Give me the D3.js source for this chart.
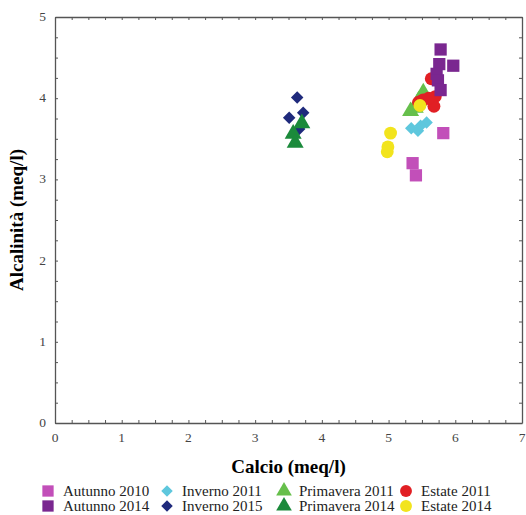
<!DOCTYPE html>
<html>
<head>
<meta charset="utf-8">
<style>
    body { margin: 0; background: #fff; }
    text { font-family: "Liberation Serif", "Times New Roman", serif; }
</style>
</head>
<body>
    <div class="graph"></div>

    <script src="https://d3js.org/d3.v7.min.js"></script>
    <script>
        // series (calcio, alcalinita)
        var autunno2010 = [[5.82, 3.57], [5.36, 3.20], [5.41, 3.05]]
        var inverno2011 = [[5.34, 3.63], [5.44, 3.60], [5.57, 3.70], [5.48, 3.66]]
        var primavera2011 = [[5.33, 3.84], [5.52, 4.07], [5.45, 3.97], [5.40, 3.88]]
        var estate2011 = [[5.64, 4.24], [5.52, 3.98], [5.70, 4.02], [5.68, 3.90], [5.45, 3.95], [5.60, 4.00]]
        var autunno2014 = [[5.78, 4.60], [5.97, 4.40], [5.76, 4.42], [5.72, 4.30], [5.74, 4.22], [5.78, 4.10]]
        var inverno2015 = [[3.63, 4.01], [3.72, 3.82], [3.51, 3.76], [3.66, 3.62]]
        var primavera2014 = [[3.70, 3.69], [3.57, 3.56], [3.60, 3.45]]
        var estate2014 = [[5.47, 3.91], [5.03, 3.57], [4.99, 3.40], [4.98, 3.34]]

        var seriesNames = ['Autunno 2010', 'Inverno 2011', 'Primavera 2011', 'Estate 2011',
                           'Autunno 2014', 'Inverno 2015', 'Primavera 2014', 'Estate 2014']
        var xTicks = [0, 1, 2, 3, 4, 5, 6, 7]
        var yTicks = [0, 1, 2, 3, 4, 5]

        var series = [
            { name: seriesNames[0], data: autunno2010, shape: 'square', color: '#c24fb9' },
            { name: seriesNames[1], data: inverno2011, shape: 'diamond', color: '#5ec7dd' },
            { name: seriesNames[2], data: primavera2011, shape: 'triangle', color: '#66bf4b' },
            { name: seriesNames[3], data: estate2011, shape: 'circle', color: '#e11f24' },
            { name: seriesNames[4], data: autunno2014, shape: 'square', color: '#7a2790' },
            { name: seriesNames[5], data: inverno2015, shape: 'diamond', color: '#1f2a7c' },
            { name: seriesNames[6], data: primavera2014, shape: 'triangle', color: '#1b8a3b' },
            { name: seriesNames[7], data: estate2014, shape: 'circle', color: '#f2e41d' }
        ]

        var width = 526,
            height = 515,
            plotLeft = 55, plotRight = 522, plotTop = 17, plotBottom = 423

        var x = d3.scaleLinear().domain([0, 7]).range([plotLeft, plotRight])
        var y = d3.scaleLinear().domain([0, 5]).range([plotBottom, plotTop])

        var symbols = {
            square: { type: d3.symbolSquare, size: 150, rot: 0 },
            diamond: { type: d3.symbolSquare, size: 78, rot: 45 },
            triangle: { type: d3.symbolTriangle, size: 125, rot: 0 },
            circle: { type: d3.symbolCircle, size: 130, rot: 0 }
        }

        var svg = d3.select('.graph').append('svg')
            .attr('width', width)
            .attr('height', height)

        var frameColor = '#555'

        // minor ticks every 0.25, pointing inward on all four sides
        var xMinor = d3.range(0, 7.001, 0.25)
        var yMinor = d3.range(0, 5.001, 0.25)

        svg.append('g')
            .attr('transform', 'translate(0,' + plotBottom + ')')
            .call(d3.axisBottom(x).tickValues(xMinor).tickSize(-3).tickSizeOuter(0).tickFormat(''))
        svg.append('g')
            .attr('transform', 'translate(0,' + plotTop + ')')
            .call(d3.axisTop(x).tickValues(xMinor).tickSize(-3).tickSizeOuter(0).tickFormat(''))
        svg.append('g')
            .attr('transform', 'translate(' + plotLeft + ',0)')
            .call(d3.axisLeft(y).tickValues(yMinor).tickSize(-3).tickSizeOuter(0).tickFormat(''))
        svg.append('g')
            .attr('transform', 'translate(' + plotRight + ',0)')
            .call(d3.axisRight(y).tickValues(yMinor).tickSize(-3).tickSizeOuter(0).tickFormat(''))

        svg.selectAll('.domain, .tick line')
            .attr('stroke', frameColor)
        svg.selectAll('.domain').attr('stroke-width', 1.3)

        // tick labels
        svg.append('g').selectAll('text')
            .data(xTicks)
            .enter().append('text')
            .attr('x', function (d) { return x(d) })
            .attr('y', plotBottom + 19)
            .attr('text-anchor', 'middle')
            .attr('font-size', 13.5)
            .attr('fill', '#444')
            .text(function (d) { return d })

        svg.append('g').selectAll('text')
            .data(yTicks)
            .enter().append('text')
            .attr('x', plotLeft - 9)
            .attr('y', function (d) { return y(d) + 4 })
            .attr('text-anchor', 'end')
            .attr('font-size', 13.5)
            .attr('fill', '#444')
            .text(function (d) { return d })

        // axis titles
        svg.append('text')
            .attr('x', (plotLeft + plotRight) / 2)
            .attr('y', 473)
            .attr('text-anchor', 'middle')
            .attr('font-size', 19)
            .attr('font-weight', 'bold')
            .text('Calcio (meq/l)')

        svg.append('text')
            .attr('transform', 'translate(23,' + ((plotTop + plotBottom) / 2) + ') rotate(-90)')
            .attr('text-anchor', 'middle')
            .attr('font-size', 19)
            .attr('font-weight', 'bold')
            .text('Alcalinità (meq/l)')

        function symbolPath(shape, scale) {
            var s = symbols[shape]
            return d3.symbol().type(s.type).size(s.size * scale)()
        }

        // points
        series.forEach(function (s) {
            var sym = symbols[s.shape]
            svg.append('g').selectAll('path')
                .data(s.data)
                .enter().append('path')
                .attr('transform', function (d) {
                    return 'translate(' + x(d[0]) + ',' + y(d[1]) + ') rotate(' + sym.rot + ')'
                })
                .attr('d', symbolPath(s.shape, 1))
                .attr('fill', s.color)
        })

        // legend: 4 columns, 2 rows
        var colX = [48, 167, 284, 406]
        var rowY = [491, 506]
        var legend = svg.append('g').selectAll('g')
            .data(series)
            .enter().append('g')
            .attr('transform', function (d, i) {
                return 'translate(' + colX[i % 4] + ',' + rowY[Math.floor(i / 4)] + ')'
            })
        legend.append('path')
            .attr('transform', function (d) { return 'rotate(' + symbols[d.shape].rot + ')' })
            .attr('d', function (d) { return symbolPath(d.shape, 0.85) })
            .attr('fill', function (d) { return d.color })
        legend.append('text')
            .attr('x', 15)
            .attr('y', 5)
            .attr('font-size', 15)
            .attr('fill', '#222')
            .text(function (d) { return d.name })
    </script>
</body>
</html>
